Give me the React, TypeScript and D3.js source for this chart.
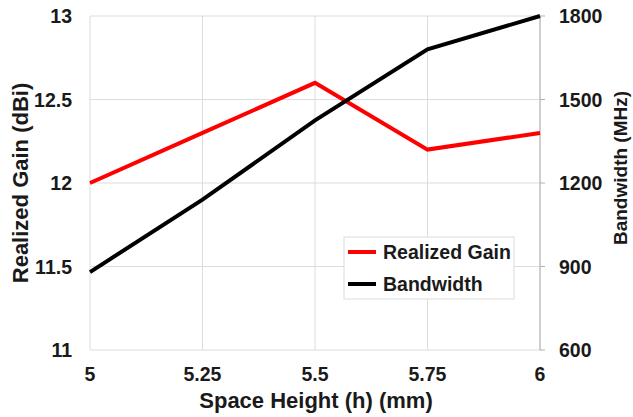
import React from "react";
import * as d3 from "d3";

const heights = [5, 5.25, 5.5, 5.75, 6];
const gain = [12.0, 12.3, 12.6, 12.2, 12.3];
const bandwidth = [880, 1140, 1425, 1680, 1800];
const xTicks = [5, 5.25, 5.5, 5.75, 6];
const gainTicks = [11, 11.5, 12, 12.5, 13];
const bwTicks = [600, 900, 1200, 1500, 1800];

const W = 633;
const H = 417;
const M = { left: 90, right: 93, top: 16, bottom: 67 };
const FONT = "'Liberation Sans', Arial, sans-serif";

export default function App() {
  const x = d3.scaleLinear().domain([5, 6]).range([M.left, W - M.right]);
  const yL = d3.scaleLinear().domain([11, 13]).range([H - M.bottom, M.top]);
  const yR = d3.scaleLinear().domain([600, 1800]).range([H - M.bottom, M.top]);

  const gainLine = d3
    .line<number>()
    .x((_, i) => x(heights[i]))
    .y((d) => yL(d));
  const bwLine = d3
    .line<number>()
    .x((_, i) => x(heights[i]))
    .y((d) => yR(d));

  const x0 = x(5), x1 = x(6), yTop = yL(13), yBot = yL(11);

  return (
    <svg
      width={W}
      height={H}
      style={{ position: "absolute", left: 0, top: 0, background: "#fff" }}
      fontFamily={FONT}
      fontWeight="bold"
    >
      <rect x={0} y={0} width={W} height={H} fill="#fff" />
      {/* grid */}
      {xTicks.map((t) => (
        <line key={"gx" + t} x1={x(t)} x2={x(t)} y1={yTop} y2={yBot} stroke="#dcdcdc" strokeWidth={1} />
      ))}
      {gainTicks.map((t) => (
        <line key={"gy" + t} x1={x0} x2={x1} y1={yL(t)} y2={yL(t)} stroke="#dcdcdc" strokeWidth={1} />
      ))}
      {/* axes */}
      <line x1={x1} x2={x1} y1={yTop} y2={yBot} stroke="#b0b0b0" strokeWidth={1} />
      {bwTicks.map((t) => (
        <line key={"rt" + t} x1={x1} x2={x1 + 5} y1={yR(t)} y2={yR(t)} stroke="#b0b0b0" strokeWidth={1} />
      ))}
      {/* tick labels */}
      {gainTicks.map((t) => (
        <text key={"lt" + t} x={x0 - 18} y={yL(t)} dy="0.36em" textAnchor="end" fontSize={19.5} fill="#1a1a1a">
          {t}
        </text>
      ))}
      {bwTicks.map((t) => (
        <text key={"rl" + t} x={x1 + 19} y={yR(t)} dy="0.36em" textAnchor="start" fontSize={19.5} fill="#1a1a1a">
          {t}
        </text>
      ))}
      {xTicks.map((t) => (
        <text key={"xl" + t} x={x(t)} y={381} textAnchor="middle" fontSize={19.5} fill="#1a1a1a">
          {t}
        </text>
      ))}
      {/* titles */}
      <text x={316} y={408} textAnchor="middle" fontSize={22} fill="#1a1a1a">
        Space Height (h) (mm)
      </text>
      <text transform={`translate(28,${183}) rotate(-90)`} textAnchor="middle" fontSize={22} fill="#1a1a1a">
        Realized Gain (dBi)
      </text>
      <text transform={`translate(627,${168}) rotate(-90)`} textAnchor="middle" fontSize={19} fill="#1a1a1a">
        Bandwidth (MHz)
      </text>
      {/* lines */}
      <path d={gainLine(gain) || ""} fill="none" stroke="#ff0000" strokeWidth={4} strokeLinejoin="miter" />
      <path d={bwLine(bandwidth) || ""} fill="none" stroke="#000" strokeWidth={4} strokeLinejoin="miter" />
      {/* legend */}
      <rect x={344} y={237} width={170} height={62} fill="#fff" stroke="#dcdcdc" strokeWidth={1} />
      <line x1={348} x2={376} y1={252} y2={252} stroke="#ff0000" strokeWidth={4} />
      <line x1={348} x2={376} y1={284} y2={284} stroke="#000" strokeWidth={4} />
      <text x={383} y={252} dy="0.36em" fontSize={19.5} fill="#1a1a1a">
        Realized Gain
      </text>
      <text x={383} y={284} dy="0.36em" fontSize={19.5} fill="#1a1a1a">
        Bandwidth
      </text>
    </svg>
  );
}
